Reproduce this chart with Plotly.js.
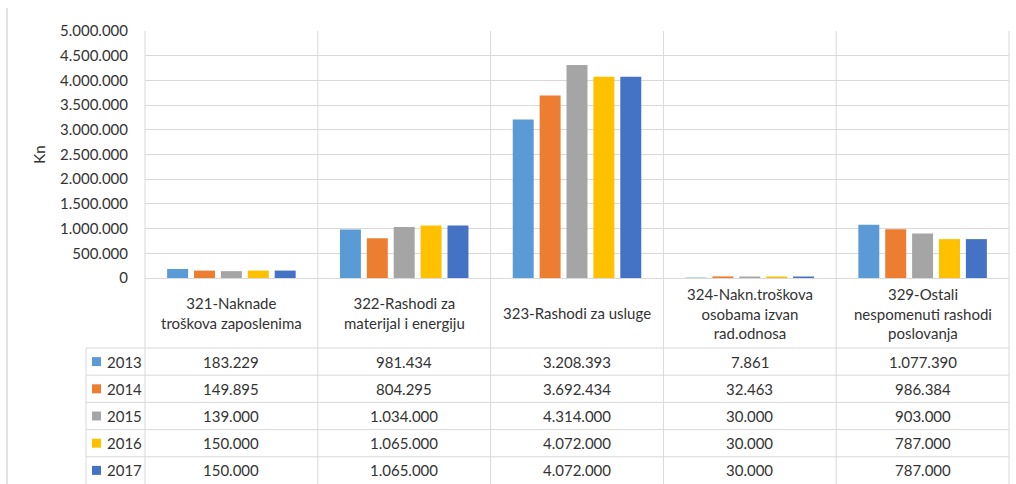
<!DOCTYPE html>
<html><head><meta charset="utf-8">
<script src="https://cdn.plot.ly/plotly-3.0.1.min.js"></script>
<style>html,body{margin:0;padding:0;background:#fff;}</style>
</head><body>
<div id="chart" style="width:1016px;height:484px;"></div>
<script>
// ---- data ----
const categories = ["321-Naknade<br>troškova zaposlenima", "322-Rashodi za<br>materijal i energiju", "323-Rashodi za usluge", "324-Nakn.troškova<br>osobama izvan<br>rad.odnosa", "329-Ostali<br>nespomenuti rashodi<br>poslovanja"];
const years = ["2013", "2014", "2015", "2016", "2017"];
const colors = ["#5B9BD5", "#ED7D31", "#A5A5A5", "#FFC000", "#4472C4"];
const v2013 = [183229, 981434, 3208393, 7861, 1077390];
const v2014 = [149895, 804295, 3692434, 32463, 986384];
const v2015 = [139000, 1034000, 4314000, 30000, 903000];
const v2016 = [150000, 1065000, 4072000, 30000, 787000];
const v2017 = [150000, 1065000, 4072000, 30000, 787000];
const yTitle = "Kn";
const yTicks = [0, 500000, 1000000, 1500000, 2000000, 2500000, 3000000, 3500000, 4000000, 4500000, 5000000];

const series = [v2013, v2014, v2015, v2016, v2017];

// ---- layout geometry (pixels) ----
const W = 1016, H = 484;
const M = {l: 145, r: 7, t: 31, b: 206};
const plotH = H - M.t - M.b;     // 247
const plotW = W - M.l - M.r;     // 864
const zeroPx = H - M.b;          // 278
function py(p) { return (zeroPx - p) / plotH; }
function px(p) { return (p - M.l) / plotW; }

const headerBottom = 348;
const rowH = 27.2;
const tableBottom = 484;
const legendLeft = 86;
const keyLeft = 92, keySize = 9, keyTextLeft = 105;

const textColor = "#333333";
const gridColor = "#D9D9D9";
const font = {family: "Lato, 'Open Sans', sans-serif", size: 15, color: textColor};

function fmt(n) { return String(n).replace(/\B(?=(\d{3})+(?!\d))/g, "."); }

const traces = years.map((yr, i) => ({
  type: "bar",
  name: yr,
  x: categories,
  y: series[i],
  marker: {color: colors[i]},
  hoverinfo: "skip"
}));

const shapes = [];
const annotations = [];

// vertical lines (category boundaries) through plot and table
for (let i = 0; i <= categories.length; i++) {
  const edge = (i === 0 || i === categories.length);
  shapes.push({
    type: "line", layer: "below",
    xref: edge ? "paper" : "x", x0: edge ? i / categories.length : i - 0.5, x1: edge ? i / categories.length : i - 0.5,
    yref: "paper", y0: 1, y1: py(tableBottom),
    line: {color: gridColor, width: 1}
  });
}
// legend column left border
shapes.push({type: "line", xref: "paper", yref: "paper", x0: px(legendLeft), x1: px(legendLeft),
  y0: py(headerBottom), y1: py(tableBottom), line: {color: gridColor, width: 1}});
// horizontal row lines
for (let r = 0; r < years.length; r++) {
  const yy = headerBottom + r * rowH;
  shapes.push({type: "line", xref: "paper", yref: "paper", x0: px(legendLeft), x1: 1,
    y0: py(yy), y1: py(yy), line: {color: gridColor, width: 1}});
}
// page border line at the left
shapes.push({type: "line", xref: "paper", yref: "paper", x0: px(7), x1: px(7),
  y0: py(8), y1: py(484), line: {color: "#C8C8C8", width: 1}});

// header labels
categories.forEach((c) => {
  annotations.push({xref: "x", yref: "paper", x: c, y: py((zeroPx + headerBottom) / 2),
    text: c, showarrow: false, xanchor: "center", yanchor: "middle", font: font, align: "center"});
});
// table values and row labels (legend keys)
years.forEach((yr, r) => {
  const ycPx = headerBottom + (r + 0.5) * rowH;
  const yc = py(ycPx);
  shapes.push({type: "rect", xref: "paper", yref: "paper",
    x0: px(keyLeft), x1: px(keyLeft + keySize), y0: py(ycPx - keySize / 2), y1: py(ycPx + keySize / 2),
    fillcolor: colors[r], line: {width: 0}});
  annotations.push({xref: "paper", yref: "paper", x: px(keyTextLeft), y: yc,
    text: yr, showarrow: false, xanchor: "left", yanchor: "middle", font: font});
  categories.forEach((c, ci) => {
    annotations.push({xref: "x", yref: "paper", x: c, y: yc, text: fmt(series[r][ci]),
      showarrow: false, xanchor: "center", yanchor: "middle", font: font});
  });
});

const layout = {
  width: W, height: H,
  margin: M,
  paper_bgcolor: "#FFFFFF", plot_bgcolor: "#FFFFFF",
  separators: ",.",
  font: font,
  barmode: "group",
  bargap: 0.222,
  bargroupgap: 0.22,
  showlegend: false,
  xaxis: {type: "category", showticklabels: false, showgrid: false, zeroline: false,
    showline: false, ticks: "", fixedrange: true},
  yaxis: {range: [0, 5000000], tickvals: yTicks, tickformat: ",d", showgrid: true,
    gridcolor: gridColor, gridwidth: 1, zeroline: true, zerolinecolor: gridColor, zerolinewidth: 1,
    showline: false, ticks: "", ticklabelstandoff: 16, tickfont: font, fixedrange: true,
    title: {text: yTitle, font: font, standoff: 10}},
  shapes: shapes,
  annotations: annotations
};

Plotly.newPlot("chart", traces, layout, {displayModeBar: false, staticPlot: true});
</script>
</body></html>
